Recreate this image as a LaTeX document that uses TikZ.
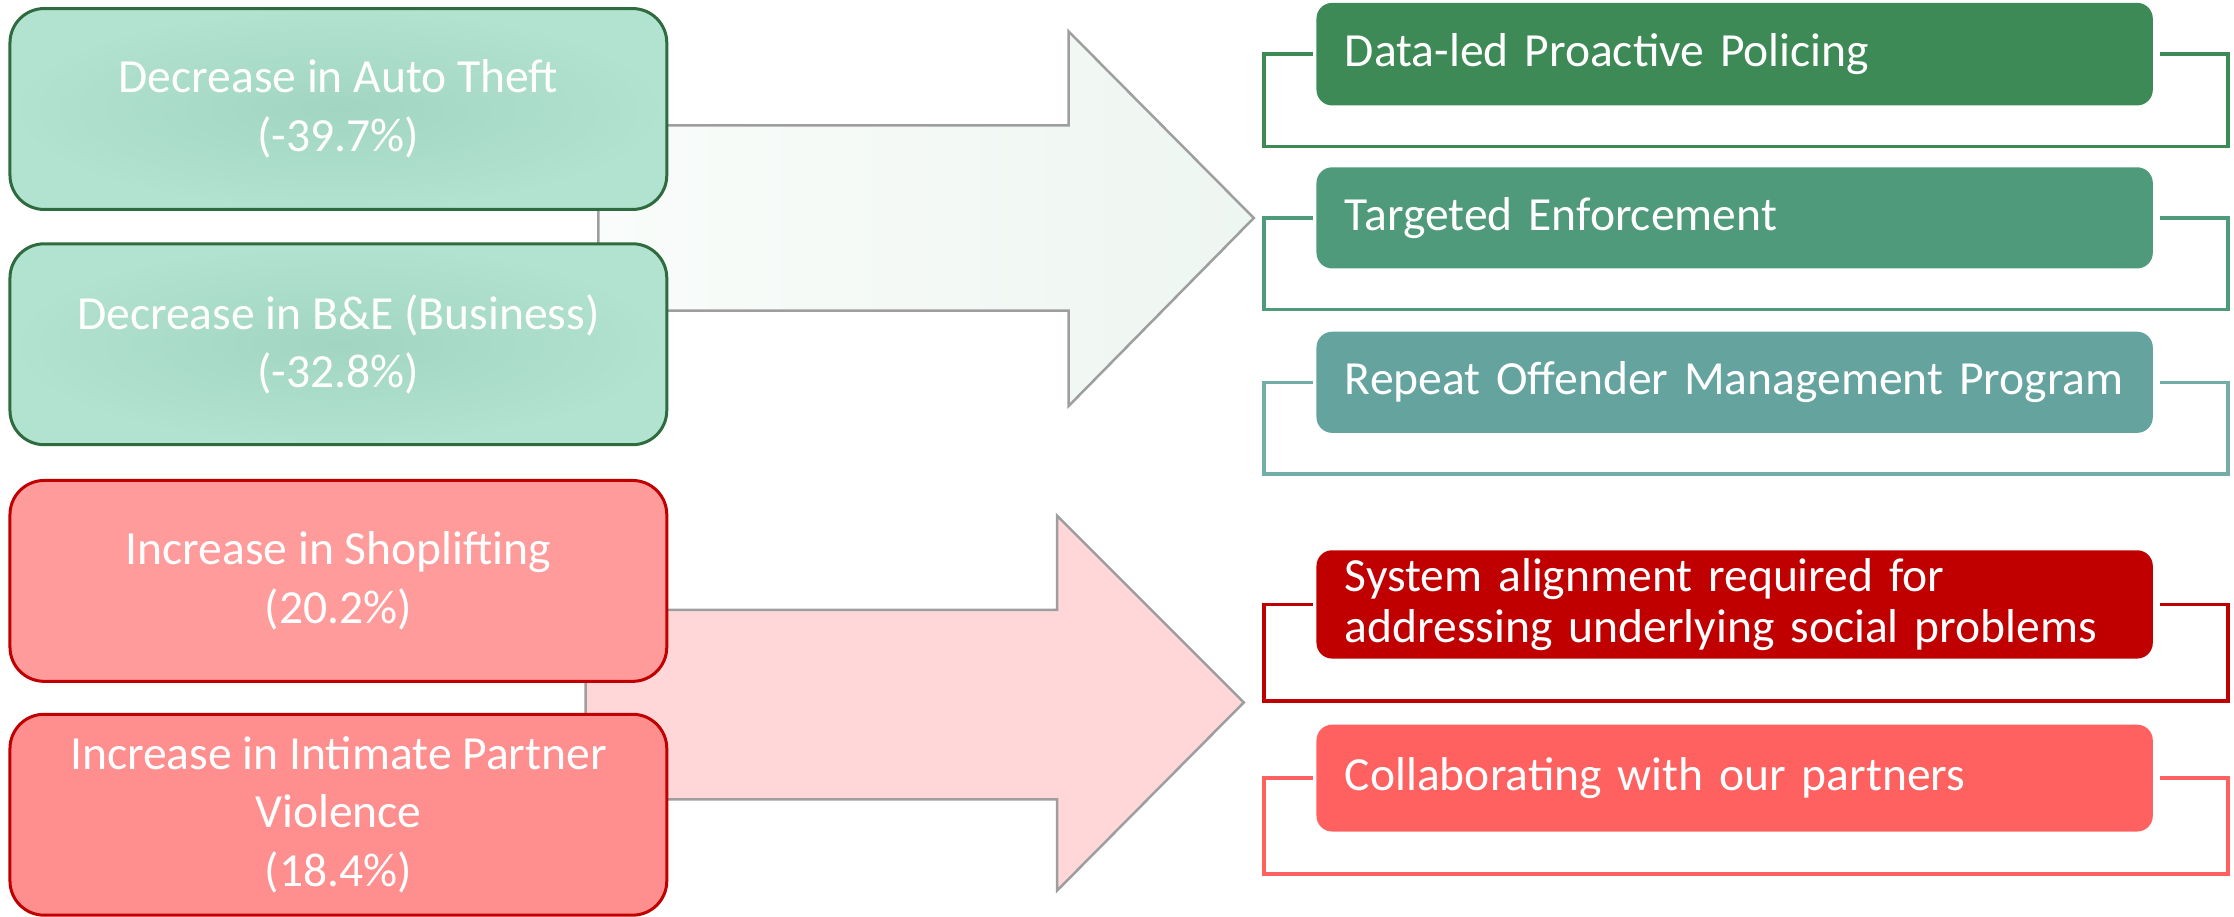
\documentclass[tikz,border=0pt]{standalone}
\usepackage{fontspec}
\setmainfont{Carlito}
\usetikzlibrary{calc,positioning}

\definecolor{mintedge}{HTML}{B2E2D0}
\definecolor{mintcore}{HTML}{A1D6C2}
\definecolor{darkgreen}{HTML}{2E6B3E}
\definecolor{rosefill}{HTML}{FF9B9B}
\definecolor{rosedeep}{HTML}{FF8F8F}
\definecolor{crimson}{HTML}{C00000}
\definecolor{arrowmintL}{HTML}{F9FCFA}
\definecolor{arrowmintR}{HTML}{EEF6F1}
\definecolor{arrowpink}{HTML}{FFD7D8}
\definecolor{arrowedge}{HTML}{9E9E9E}
\definecolor{policegreen}{HTML}{3E8A56}
\definecolor{targetgreen}{HTML}{4F9A7A}
\definecolor{repeatteal}{HTML}{64A39E}
\definecolor{systemred}{HTML}{C00000}
\definecolor{partnerred}{HTML}{FF6161}

\tikzset{
	crimebox/.style={draw, line width=0.6pt, rounded corners=0.24cm, minimum width=4.61cm, minimum height=1.41cm, inner sep=0pt, align=center, text=white, font=\fontsize{9.5}{11.7}\selectfont},
	dropbox/.style={crimebox, draw=darkgreen, inner color=mintcore, outer color=mintedge},
	risebox/.style={crimebox, draw=crimson},
	actionbox/.style={rounded corners=0.11cm, text width=5.47cm, inner xsep=0.2cm, inner ysep=0pt, align=left, text=white, font=\fontsize{9.5}{10.2}\selectfont},
	bracketline/.style={line width=0.7pt},
	blockarrow/.style={draw=arrowedge, line width=0.5pt}
}

\begin{document}
\begin{tikzpicture}
			%%%%% START %%%%%
			\useasboundingbox (0, 0) rectangle (15.68, -6.436);
			
			% big arrows behind the boxes
			\draw[blockarrow, left color=arrowmintL, right color=arrowmintR] (4.20, -0.88) -- (7.50, -0.88) -- (7.50, -0.22) -- (8.80, -1.53) -- (7.50, -2.85) -- (7.50, -2.18) -- (4.20, -2.18) -- cycle;
			\draw[blockarrow, fill=arrowpink] (4.11, -4.28) -- (7.42, -4.28) -- (7.42, -3.62) -- (8.73, -4.93) -- (7.42, -6.25) -- (7.42, -5.61) -- (4.11, -5.61) -- cycle;
			
			% crime trends
			\node[dropbox] (autotheft) at (2.375, -0.765) {Decrease in Auto Theft\\(-39.7\%)};
			\node[dropbox, below=0.22 of autotheft] (breakenter) {Decrease in B\&E (Business)\\(-32.8\%)};
			\node[risebox, fill=rosefill, below=0.23 of breakenter] (shoplift) {Increase in Shoplifting\\(20.2\%)};
			\node[risebox, fill=rosedeep, below=0.21 of shoplift] (ipv) {Increase in Intimate Partner\\Violence\\(18.4\%)};
			
			% responses
			\node[actionbox, fill=policegreen, minimum height=0.72cm] (proactive) at (12.175, -0.38) {Data-led Proactive Policing};
			\node[actionbox, fill=targetgreen, minimum height=0.71cm, below=0.42 of proactive] (enforce) {Targeted Enforcement};
			\node[actionbox, fill=repeatteal, minimum height=0.71cm, below=0.43 of enforce] (offender) {Repeat Offender Management Program};
			\node[actionbox, fill=systemred, minimum height=0.76cm, below=0.81 of offender] (alignment) {System alignment required for\\addressing underlying social problems};
			\node[actionbox, fill=partnerred, minimum height=0.75cm, below=0.45 of alignment] (partners) {Collaborating with our partners};
			
			% brackets
			\draw[bracketline, policegreen] ($(proactive.west)+(-0.02,0)$) -- ++(-0.34,0) |- ($(proactive.south)+(0,-0.28)$) -| ($(proactive.east)+(0.52,0)$) -- ($(proactive.east)+(0.04,0)$);
			\draw[bracketline, targetgreen] ($(enforce.west)+(-0.02,0)$) -- ++(-0.34,0) |- ($(enforce.south)+(0,-0.28)$) -| ($(enforce.east)+(0.52,0)$) -- ($(enforce.east)+(0.04,0)$);
			\draw[bracketline, repeatteal!90!white] ($(offender.west)+(-0.02,0)$) -- ++(-0.34,0) |- ($(offender.south)+(0,-0.28)$) -| ($(offender.east)+(0.52,0)$) -- ($(offender.east)+(0.04,0)$);
			\draw[bracketline, systemred] ($(alignment.west)+(-0.02,0)$) -- ++(-0.34,0) |- ($(alignment.south)+(0,-0.29)$) -| ($(alignment.east)+(0.52,0)$) -- ($(alignment.east)+(0.04,0)$);
			\draw[bracketline, partnerred] ($(partners.west)+(-0.02,0)$) -- ++(-0.34,0) |- ($(partners.south)+(0,-0.29)$) -| ($(partners.east)+(0.52,0)$) -- ($(partners.east)+(0.04,0)$);
			
			%%%%% END %%%%%
\end{tikzpicture}
\end{document}
